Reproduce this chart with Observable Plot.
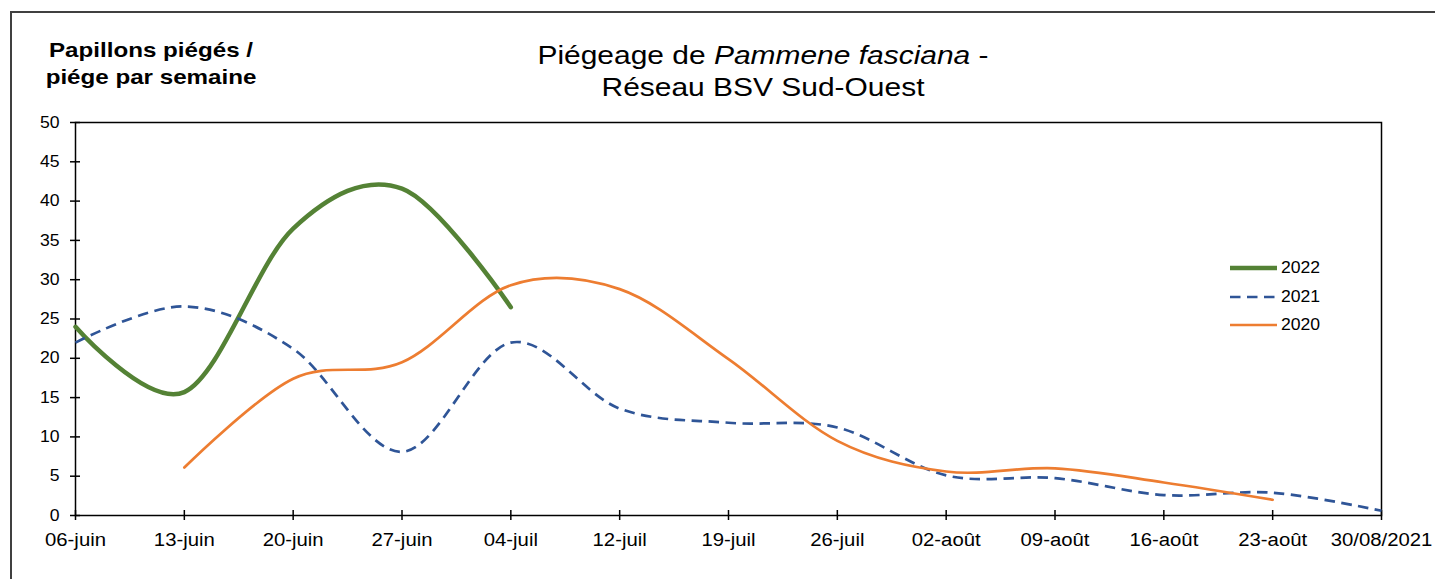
<!DOCTYPE html>
<html>
<head>
<meta charset="utf-8">
<script src="https://cdn.jsdelivr.net/npm/d3@7"></script>
<script src="https://cdn.jsdelivr.net/npm/@observablehq/plot@0.6"></script>
<style>
  html, body { margin: 0; padding: 0; background: #fff; }
  #wrap { position: relative; width: 1435px; height: 579px; overflow: hidden;
          font-family: "Liberation Sans", Arial, sans-serif; color: #000; }
  #outer { position: absolute; left: 10px; top: 11px; width: 2000px; height: 2000px;
           border-left: 2px solid #404040; border-top: 2px solid #404040; }
  #chart { position: absolute; left: 0; top: 0; }
  #title { position: absolute; left: 463px; width: 600px; top: 39px; text-align: center;
           font-size: 26.5px; line-height: 32px; transform: scaleX(1.13); transform-origin: center; }
  #ytitle { position: absolute; left: 31px; width: 240px; top: 37px; text-align: center;
            font-size: 21px; font-weight: bold; line-height: 26.5px; transform: scaleX(1.15); transform-origin: center; }
  .leg { position: absolute; left: 1230px; height: 20px; display: flex; align-items: center; font-size: 16px; }
  .leg svg { display: block; margin-right: 4px; }
  .leg span { display: inline-block; transform: scaleX(1.1); transform-origin: left center; }
</style>
</head>
<body>
<div id="wrap">
  <div id="outer"></div>
  <div id="chart"></div>
  <div id="title">Piégeage de <i>Pammene fasciana</i> -<br>Réseau BSV Sud-Ouest</div>
  <div id="ytitle">Papillons piégés /<br>piége par semaine</div>
</div>
<script>
// ---- data ----
const semaines = ["06-juin","13-juin","20-juin","27-juin","04-juil","12-juil","19-juil","26-juil","02-août","09-août","16-août","23-août","30/08/2021"];
const annees = ["2022","2021","2020"];
const v2022 = [24, 15.7, 36.5, 41.6, 26.5];
const v2021 = [22, 26.6, 21.2, 8.1, 22, 13.6, 11.8, 11.2, 5.1, 4.75, 2.6, 2.9, 0.6];
const v2020 = [null, 6.1, 17.4, 19.5, 29.3, 28.8, 19.9, 9.5, 5.6, 6.0, 4.2, 2.0];
const yTicks = [0, 5, 10, 15, 20, 25, 30, 35, 40, 45, 50];

const toRows = (vals) => vals.map((v, i) => ({semaine: semaines[i], valeur: v})).filter(d => d.valeur != null);
const r2022 = toRows(v2022), r2021 = toRows(v2021), r2020 = toRows(v2020);

const styles = {
  "2022": {stroke: "#548235", strokeWidth: 4.5, dash: null},
  "2021": {stroke: "#2F5597", strokeWidth: 2.7, dash: "10.5,6.5"},
  "2020": {stroke: "#ED7D31", strokeWidth: 2.7, dash: null}
};

const chart = Plot.plot({
  width: 1435, height: 579,
  marginLeft: 75, marginRight: 54, marginTop: 122, marginBottom: 64,
  style: {fontFamily: "'Liberation Sans', Arial, sans-serif", color: "#000", background: "transparent", overflow: "visible"},
  x: {type: "point", domain: semaines, padding: 0, round: false},
  y: {domain: [0, 50]},
  marks: [
    Plot.axisY({ticks: yTicks, tickSize: 10, dx: 5, tickPadding: 11, fontSize: 16, strokeWidth: 1.5, label: null}),
    Plot.axisX({tickSize: 10, dy: -5, tickPadding: 13, fontSize: 18, strokeWidth: 1.5, label: null}),
    Plot.frame({stroke: "#000", strokeWidth: 1.5}),
    Plot.line(r2022, {x: "semaine", y: "valeur", stroke: styles["2022"].stroke, strokeWidth: styles["2022"].strokeWidth, curve: "cardinal"}),
    Plot.line(r2021, {x: "semaine", y: "valeur", stroke: styles["2021"].stroke, strokeWidth: styles["2021"].strokeWidth, strokeDasharray: styles["2021"].dash, strokeLinecap: "butt", curve: "cardinal"}),
    Plot.line(r2020, {x: "semaine", y: "valeur", stroke: styles["2020"].stroke, strokeWidth: styles["2020"].strokeWidth, curve: "cardinal"})
  ]
});
document.getElementById("chart").appendChild(chart);

// stretch tick labels horizontally like the reference (scale about each label's anchor)
function stretch(selector, s) {
  d3.select(chart).selectAll(selector).each(function () {
    const el = d3.select(this);
    const t = el.attr("transform") || "";
    const x = +(el.attr("x") || 0);
    el.attr("transform", `${t} translate(${x},0) scale(${s},1) translate(${-x},0)`);
  });
}
stretch('g[aria-label="x-axis tick label"] text', 1.13);
stretch('g[aria-label="y-axis tick label"] text', 1.1);

// legend
const legTops = [258, 287, 315];
const wrap = document.getElementById("wrap");
annees.forEach((a, i) => {
  const s = styles[a];
  const div = document.createElement("div");
  div.className = "leg";
  div.style.top = legTops[i] + "px";
  div.innerHTML = `<svg width="47" height="10"><line x1="0" x2="47" y1="5" y2="5" stroke="${s.stroke}" stroke-width="${s.strokeWidth}" ${s.dash ? `stroke-dasharray="${s.dash}"` : ""} stroke-linecap="${s.dash ? "butt" : "round"}"/></svg><span>${a}</span>`;
  wrap.appendChild(div);
});
</script>
</body>
</html>
